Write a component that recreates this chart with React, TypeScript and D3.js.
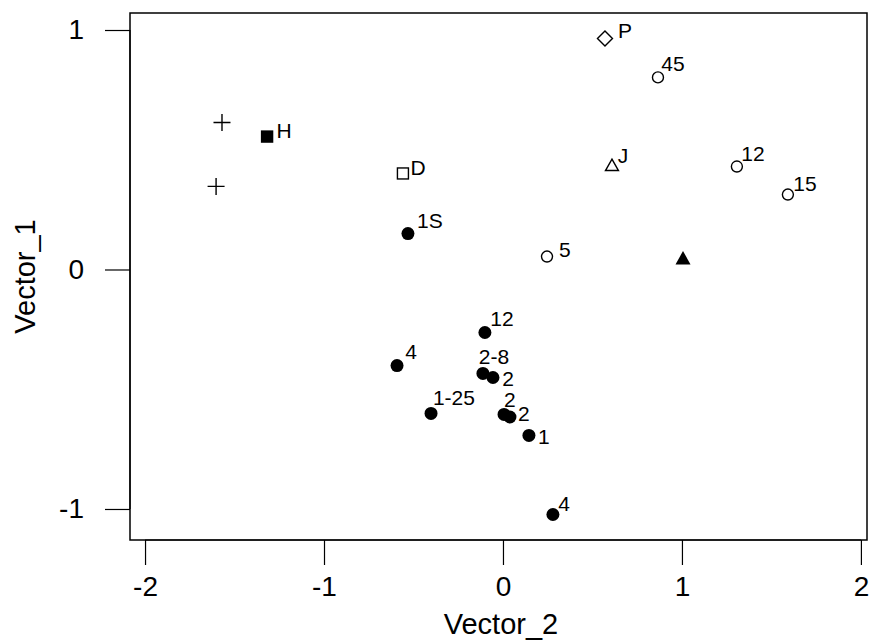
import React, { useEffect, useRef } from 'react';
import * as d3 from 'd3';

// point coordinates (Vector_2, Vector_1), marker type and label
const xs = [-1.57, -1.603, -1.318, -0.559, -0.531, 0.57, 0.866, 0.609, 1.307, 1.592, 0.246, 1.006,
  -0.101, -0.592, -0.112, -0.056, -0.402, 0.006, 0.039, 0.145, 0.279];
const ys = [0.614, 0.347, 0.555, 0.401, 0.15, 0.965, 0.802, 0.434, 0.43, 0.313, 0.054, 0.046,
  -0.263, -0.401, -0.434, -0.451, -0.601, -0.605, -0.616, -0.693, -1.023];
const shapes = ['plus', 'plus', 'squareFilled', 'square', 'circleFilled', 'diamond', 'circle', 'triangle',
  'circle', 'circle', 'circle', 'triangleFilled',
  'circleFilled', 'circleFilled', 'circleFilled', 'circleFilled', 'circleFilled', 'circleFilled',
  'circleFilled', 'circleFilled', 'circleFilled'];

// annotation text and where it sits (data units)
const labels = ['H', 'D', '1S', 'P', '45', 'J', '12', '15', '5', '12', '4', '2-8', '2', '1-25', '2', '2', '1', '4'];
const labelX = [-1.223, -0.475, -0.408, 0.682, 0.95, 0.67, 1.397, 1.687, 0.346, -0.006, -0.514, -0.05, 0.028, -0.274, 0.039, 0.117, 0.229, 0.341];
const labelY = [0.58, 0.426, 0.205, 0.998, 0.86, 0.476, 0.484, 0.359, 0.084, -0.205, -0.342, -0.364, -0.456, -0.534, -0.543, -0.6, -0.697, -0.978];

const xTicks = [-2, -1, 0, 1, 2];
const yTicks = [-1, 0, 1];

export default function App() {
  const svgRef = useRef<SVGSVGElement>(null);

  useEffect(() => {
    if (!svgRef.current) return;
    const width = 870;
    const height = 641;
    const margin = { top: 13, right: 3, bottom: 101, left: 130 };

    const root = d3.select(svgRef.current);
    root.selectAll('*').remove();
    root.attr('width', width).attr('height', height);

    const x = d3.scaleLinear().domain([-2.084, 2.034]).range([margin.left, width - margin.right]);
    const y = d3.scaleLinear().domain([-1.1295, 1.0710]).range([height - margin.bottom, margin.top]);
    const font = 'Liberation Sans, Arial, sans-serif';

    // box
    root.append('rect')
      .attr('x', margin.left).attr('y', margin.top)
      .attr('width', width - margin.right - margin.left)
      .attr('height', height - margin.bottom - margin.top)
      .attr('fill', 'none').attr('stroke', '#000').attr('stroke-width', 1.5);

    const xAxis = root.append('g')
      .attr('transform', `translate(0,${height - margin.bottom})`)
      .call(d3.axisBottom(x).tickValues(xTicks).tickSize(25).tickPadding(11).tickFormat(d => String(d)));
    xAxis.select('.domain').attr('stroke-width', 1.2).attr('d', `M${x(-2)},0H${x(2)}`);
    xAxis.selectAll('line').attr('stroke-width', 1.2);
    xAxis.selectAll('text').style('font-size', '28px').style('font-family', font);
    xAxis.attr('font-size', null).attr('font-family', null);

    const yAxis = root.append('g')
      .attr('transform', `translate(${margin.left},0)`)
      .call(d3.axisLeft(y).tickValues(yTicks).tickSize(25).tickPadding(21).tickFormat(d => String(d)));
    yAxis.select('.domain').attr('stroke-width', 1.2).attr('d', `M0,${y(-1)}V${y(1)}`);
    yAxis.selectAll('line').attr('stroke-width', 1.2);
    yAxis.selectAll('text').style('font-size', '28px').style('font-family', font);
    yAxis.attr('font-size', null).attr('font-family', null);

    root.append('text')
      .attr('x', 501).attr('y', 634)
      .attr('text-anchor', 'middle')
      .style('font-size', '29px').style('font-family', font)
      .text('Vector_2');

    root.append('text')
      .attr('transform', `translate(35,${(margin.top + height - margin.bottom) / 2}) rotate(-90)`)
      .attr('text-anchor', 'middle')
      .style('font-size', '29px').style('font-family', font)
      .text('Vector_1');

    const g = root.append('g');
    xs.forEach((vx, i) => {
      const cx = x(vx);
      const cy = y(ys[i]);
      const s = shapes[i];
      if (s === 'circleFilled') {
        g.append('circle').attr('cx', cx).attr('cy', cy).attr('r', 6.5).attr('fill', '#000');
      } else if (s === 'circle') {
        g.append('circle').attr('cx', cx).attr('cy', cy).attr('r', 5.5)
          .attr('fill', 'none').attr('stroke', '#000').attr('stroke-width', 1.4);
      } else if (s === 'squareFilled') {
        g.append('rect').attr('x', cx - 6.2).attr('y', cy - 6.2).attr('width', 12.4).attr('height', 12.4).attr('fill', '#000');
      } else if (s === 'square') {
        g.append('rect').attr('x', cx - 5.5).attr('y', cy - 5.5).attr('width', 11).attr('height', 11)
          .attr('fill', 'none').attr('stroke', '#000').attr('stroke-width', 1.4);
      } else if (s === 'diamond') {
        g.append('path').attr('d', `M${cx},${cy - 7.5}L${cx + 7.5},${cy}L${cx},${cy + 7.5}L${cx - 7.5},${cy}Z`)
          .attr('fill', 'none').attr('stroke', '#000').attr('stroke-width', 1.4);
      } else if (s === 'triangle') {
        g.append('path').attr('d', `M${cx},${cy - 6.5}L${cx + 6.5},${cy + 5}L${cx - 6.5},${cy + 5}Z`)
          .attr('fill', 'none').attr('stroke', '#000').attr('stroke-width', 1.4);
      } else if (s === 'triangleFilled') {
        g.append('path').attr('d', `M${cx},${cy - 7.5}L${cx + 7.5},${cy + 6}L${cx - 7.5},${cy + 6}Z`)
          .attr('fill', '#000');
      } else if (s === 'plus') {
        g.append('path').attr('d', `M${cx - 8.5},${cy}H${cx + 8.5}M${cx},${cy - 8.5}V${cy + 8.5}`)
          .attr('stroke', '#000').attr('stroke-width', 1.4);
      }
    });

    labels.forEach((t, i) => {
      g.append('text')
        .attr('x', x(labelX[i])).attr('y', y(labelY[i]))
        .attr('text-anchor', 'middle').attr('dy', '0.36em')
        .style('font-size', '21px').style('font-family', font)
        .text(t);
    });
  }, []);

  return <svg ref={svgRef} style={{ display: 'block', position: 'absolute', left: 0, top: 0 }} />;
}
